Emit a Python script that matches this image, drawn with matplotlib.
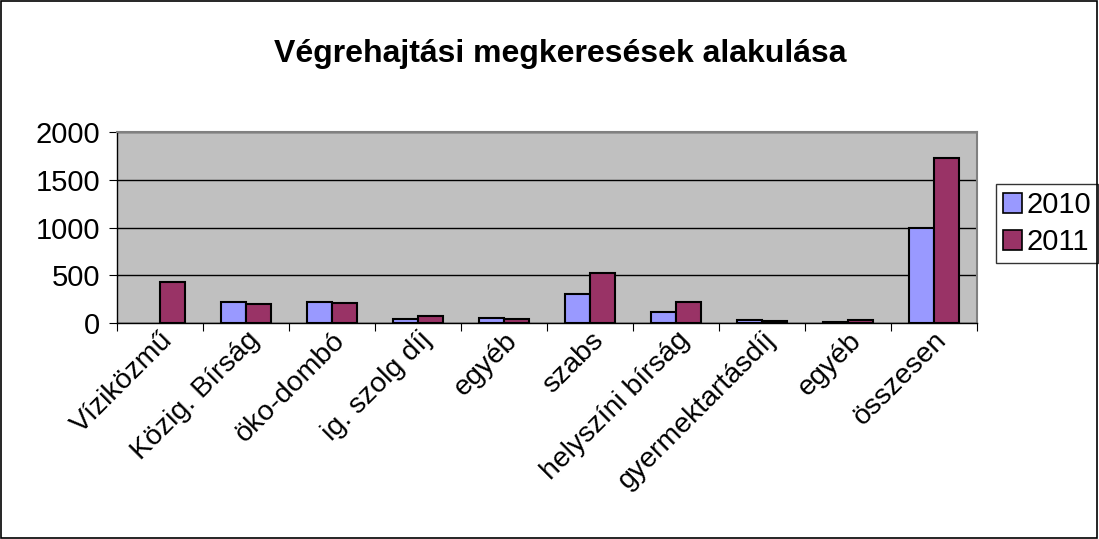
import matplotlib
matplotlib.use("Agg")
import matplotlib.pyplot as plt
import numpy as np
from matplotlib.patches import Rectangle

kategoriak = ["Víziközmű", "Közig. Bírság", "öko-dombó", "ig. szolg díj", "egyéb",
              "szabs", "helyszíni bírság", "gyermektartásdíj", "egyéb", "összesen"]
ertekek_2010 = [0, 223, 216, 42, 49, 307, 112, 28, 14, 990]
ertekek_2011 = [426, 196, 212, 73, 38, 527, 223, 20, 31, 1731]
evek = ["2010", "2011"]

plt.rcParams["font.family"] = ["Liberation Sans", "DejaVu Sans"]

fig = plt.figure(figsize=(10.99, 5.39), dpi=100)
fig.patches.append(Rectangle((0.001, 0.002), 0.997, 0.996, transform=fig.transFigure,
                             fill=False, edgecolor="black", linewidth=1.2))

ax = fig.add_axes([0.1065, 0.4007, 0.7825, 0.3543])
ax.set_facecolor("#C0C0C0")

x = np.arange(len(kategoriak))
w = 0.295
# a nulla ertekeknel ne legyen korvonal
vonal_2010 = [1.5 if v > 0 else 0 for v in ertekek_2010]
vonal_2011 = [1.5 if v > 0 else 0 for v in ertekek_2011]
ax.bar(x - w / 2, ertekek_2010, w, color="#9999FF", edgecolor="black", linewidth=vonal_2010,
       label=evek[0], zorder=3)
ax.bar(x + w / 2, ertekek_2011, w, color="#993366", edgecolor="black", linewidth=vonal_2011,
       label=evek[1], zorder=3)

ax.set_xlim(-0.5, len(kategoriak) - 0.5)
ax.set_ylim(0, 2000)
ax.set_yticks([0, 500, 1000, 1500, 2000])
ax.yaxis.grid(True, color="black", linewidth=1.0, zorder=1)
ax.set_axisbelow(True)

ax.set_xticks(np.arange(-0.5, len(kategoriak), 1.0), minor=False)
ax.set_xticklabels([])
ax.set_xticks(x, minor=True)
ax.set_xticklabels(kategoriak, minor=True, rotation=45, ha="right", va="top",
                   rotation_mode="anchor", fontsize=20.5)
ax.tick_params(axis="x", which="minor", length=0, pad=3)
ax.tick_params(axis="x", which="major", length=6, direction="out", color="black")
ax.tick_params(axis="y", labelsize=21, length=6, direction="out", pad=6)

for s in ["top", "right"]:
    ax.spines[s].set_color("#808080")
    ax.spines[s].set_linewidth(1.5)
for s in ["left", "bottom"]:
    ax.spines[s].set_color("black")
    ax.spines[s].set_linewidth(1.0)

fig.text(0.51, 0.9, "Végrehajtási megkeresések alakulása", ha="center", va="center",
         fontsize=23, fontweight="bold")

leg = ax.legend(loc="center left", bbox_to_anchor=(1.022, 0.52), fontsize=21,
                frameon=True, fancybox=False, handlelength=0.65, handleheight=0.65,
                handletextpad=0.15, borderpad=0.25, labelspacing=0.3, borderaxespad=0)
leg.get_frame().set_edgecolor("black")
leg.get_frame().set_linewidth(1.0)
for h in leg.legend_handles:
    h.set_edgecolor("black")
    h.set_linewidth(1.2)

fig.savefig("out.png", dpi=100)
